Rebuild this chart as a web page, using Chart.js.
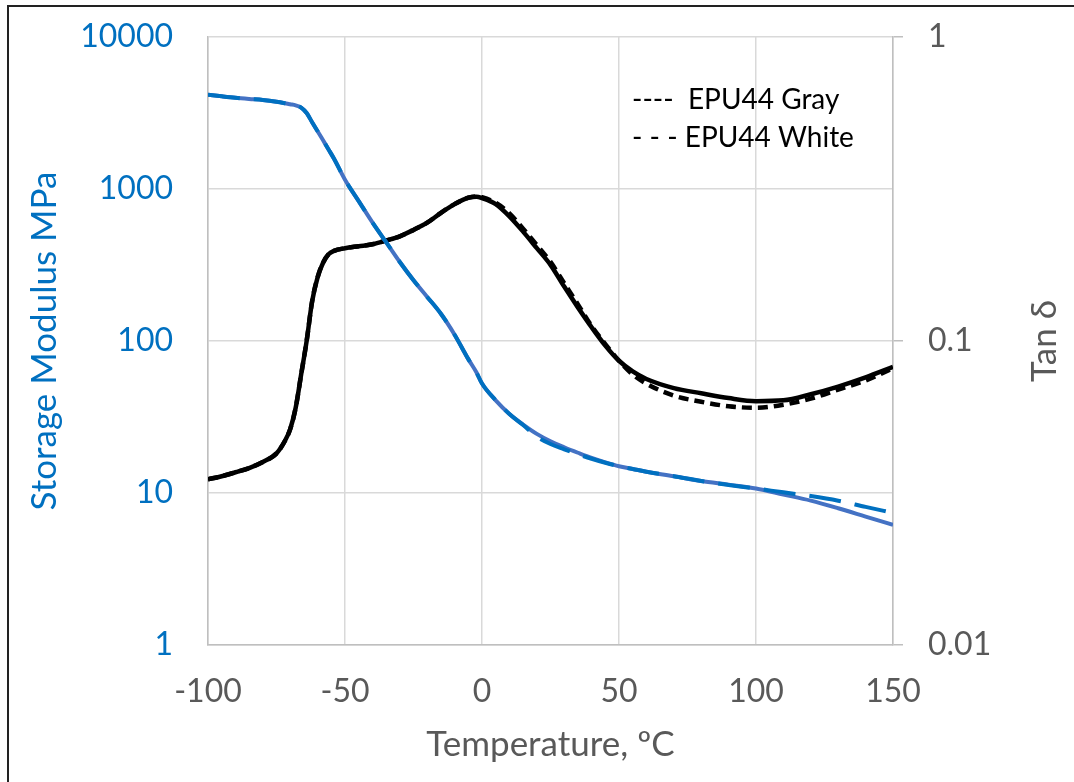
<!DOCTYPE html>
<html>
<head>
<meta charset="utf-8">
<title>EPU44 DMA</title>
<script src="https://cdn.jsdelivr.net/npm/chart.js@4/dist/chart.umd.min.js"></script>
<style>
    body { margin: 0; background: #fff; }
    #wrap { position: relative; width: 1074px; height: 782px; overflow: hidden; }
    #frame { position: absolute; left: 7px; top: 5px; width: 1100px; height: 800px; border-left: 2px solid #222; border-top: 2px solid #222; pointer-events: none; }
</style>
</head>
<body>
<div id="wrap">
    <canvas id="dmaChart" width="1074" height="782"></canvas>
    <div id="frame"></div>
</div>
<script>
// temperature, degC
const temps = [-100, -95, -90, -85, -80, -75, -72, -70, -68, -66, -64, -62, -60, -58, -56, -54, -50, -45, -40, -35,
    -30, -25, -20, -15, -10, -5, -2, 0, 5, 10, 15, 20, 25, 30, 35, 40, 45, 50, 55, 60, 70, 80, 90, 100, 110, 120, 130, 140, 150];

// storage modulus, MPa
const modulusGray = [4170, 4070, 3980, 3910, 3850, 3750, 3670, 3610, 3550, 3430, 3160, 2750, 2400, 2090, 1820, 1580, 1150, 832, 603, 447,
    331, 251, 195, 151, 110, 76, 62, 52.5, 40.7, 33.1, 28.2, 24.5, 21.9, 20.0, 18.4, 17.0, 15.9, 15.0, 14.4, 13.8, 12.9, 12.0, 11.35, 10.7, 9.77, 8.91, 7.94, 7.0, 6.17];
const modulusWhite = [4170, 4070, 3980, 3910, 3850, 3750, 3670, 3610, 3550, 3430, 3160, 2750, 2400, 2090, 1820, 1580, 1150, 832, 603, 447,
    331, 251, 195, 151, 110, 76, 62, 52.5, 40.7, 33.1, 28.0, 23.5, 21.0, 19.4, 18.0, 16.8, 15.8, 15.0, 14.4, 13.8, 12.9, 12.0, 11.3, 10.7, 10.1, 9.55, 8.9, 8.1, 7.4];

// tan delta
const tanGray = [0.0351, 0.0359, 0.0370, 0.0382, 0.0400, 0.0427, 0.0468, 0.0513, 0.0603, 0.0776, 0.100, 0.135, 0.162, 0.181, 0.193, 0.198, 0.202, 0.205, 0.208, 0.214,
    0.221, 0.232, 0.245, 0.264, 0.282, 0.296, 0.298, 0.295, 0.282, 0.257, 0.229, 0.202, 0.178, 0.151, 0.129, 0.111, 0.0966, 0.0861, 0.0794, 0.0750, 0.0700, 0.0673, 0.0649, 0.0634, 0.0638, 0.0668, 0.0708, 0.0759, 0.0822];
const tanWhite = [0.0351, 0.0359, 0.0370, 0.0382, 0.0400, 0.0427, 0.0468, 0.0513, 0.0603, 0.0776, 0.100, 0.135, 0.162, 0.181, 0.193, 0.198, 0.202, 0.205, 0.208, 0.214,
    0.221, 0.232, 0.245, 0.264, 0.282, 0.296, 0.299, 0.297, 0.285, 0.263, 0.234, 0.207, 0.182, 0.155, 0.132, 0.112, 0.0977, 0.0861, 0.0776, 0.0724, 0.0661, 0.0631, 0.0610, 0.0603, 0.0617, 0.0646, 0.0692, 0.0741, 0.0813];

const xTicks = [-100, -50, 0, 50, 100, 150];
const modulusTicks = [1, 10, 100, 1000, 10000];
const tanTicks = [0.01, 0.1, 1];
const legendLines = ['----  EPU44 Gray', '- - - EPU44 White'];

const BLUE = '#0070C0';
const GRAY_TEXT = '#595959';

function pts(ys) {
    return temps.map((t, i) => ({ x: t, y: ys[i] }));
}

// legend text + right-hand title (reads bottom to top)
const extras = {
    id: 'extras',
    afterDraw(chart) {
        const { ctx, chartArea, scales } = chart;
        ctx.save();
        ctx.fillStyle = '#000';
        ctx.font = '28px Lato';
        ctx.textBaseline = 'middle';
        ctx.textAlign = 'left';
        legendLines.forEach((txt, i) => {
            ctx.fillText(txt, chartArea.left + 424, chartArea.top + 63 + i * 38);
        });

        ctx.fillStyle = GRAY_TEXT;
        ctx.font = '35px Lato';
        ctx.textAlign = 'center';
        ctx.translate(scales.y2.right - 29, (chartArea.top + chartArea.bottom) / 2);
        ctx.rotate(-Math.PI / 2);
        ctx.fillText('Tan δ', 0, 0);
        ctx.restore();
    }
};

// fixed box size, no extra room for end labels
function fitWidth(w) {
    return s => { s.width = w; s.paddingTop = 0; s.paddingBottom = 0; };
}

Chart.defaults.font.family = 'Lato';

// first dataset is painted last (on top)
new Chart(document.getElementById('dmaChart'), {
    type: 'line',
    data: {
        datasets: [
            { label: 'EPU44 White', data: pts(modulusWhite), yAxisID: 'y', borderColor: BLUE, borderWidth: 4, borderDash: [32, 14] },
            { label: 'EPU44 Gray', data: pts(modulusGray), yAxisID: 'y', borderColor: '#4472C4', borderWidth: 4 },
            { label: 'EPU44 White tan', data: pts(tanWhite), yAxisID: 'y2', borderColor: '#000', borderWidth: 4.5, borderDash: [10, 6] },
            { label: 'EPU44 Gray tan', data: pts(tanGray), yAxisID: 'y2', borderColor: '#000', borderWidth: 4.5 }
        ]
    },
    options: {
        responsive: false,
        devicePixelRatio: 1,
        animation: false,
        layout: { padding: { top: 37, left: 0, right: 0, bottom: 0 } },
        elements: {
            point: { radius: 0 },
            line: { cubicInterpolationMode: 'monotone', fill: false, borderCapStyle: 'butt' }
        },
        plugins: {
            legend: { display: false },
            tooltip: { enabled: false }
        },
        scales: {
            x: {
                type: 'linear',
                min: -100,
                max: 150,
                afterBuildTicks: s => { s.ticks = xTicks.map(v => ({ value: v })); },
                afterFit: s => { s.height = 137; s.paddingLeft = 0; s.paddingRight = 0; },
                grid: { color: '#d9d9d9', lineWidth: 1.5, drawTicks: false },
                border: { color: '#bfbfbf', width: 1.5 },
                ticks: { color: GRAY_TEXT, font: { size: 32 }, padding: 27, maxRotation: 0 },
                title: { display: true, text: 'Temperature, ºC', color: GRAY_TEXT, font: { size: 35 }, padding: { top: 0, bottom: 16 } }
            },
            y: {
                type: 'logarithmic',
                position: 'left',
                min: 1,
                max: 10000,
                afterBuildTicks: s => { s.ticks = modulusTicks.map(v => ({ value: v })); },
                afterFit: fitWidth(208),
                grid: { color: '#d9d9d9', lineWidth: 1.5, drawTicks: false },
                border: { color: '#bfbfbf', width: 1.5 },
                ticks: { color: BLUE, font: { size: 32 }, padding: 35, callback: v => String(v) },
                title: { display: true, text: 'Storage Modulus MPa', color: BLUE, font: { size: 35 }, padding: { top: 24, bottom: 0 } }
            },
            y2: {
                type: 'logarithmic',
                position: 'right',
                min: 0.01,
                max: 1,
                afterBuildTicks: s => { s.ticks = tanTicks.map(v => ({ value: v })); },
                afterFit: fitWidth(181),
                grid: { drawOnChartArea: false, color: '#bfbfbf', lineWidth: 1.5, tickLength: 10 },
                border: { color: '#bfbfbf', width: 1.5 },
                ticks: { color: GRAY_TEXT, font: { size: 32 }, padding: 25, callback: v => String(v) }
            }
        }
    },
    plugins: [extras]
});
</script>
</body>
</html>
